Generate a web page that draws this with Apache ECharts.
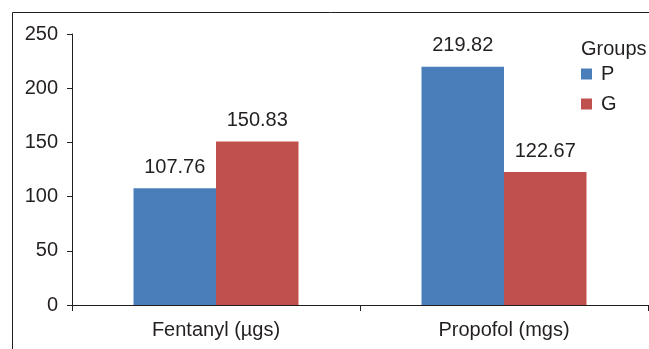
<!DOCTYPE html>
<html>
<head>
<meta charset="utf-8">
<script src="https://cdn.jsdelivr.net/npm/echarts@6/dist/echarts.min.js"></script>
<style>
html, body { margin: 0; padding: 0; background: #fff; }
#chart { width: 649px; height: 349px; }
</style>
</head>
<body>
<div id="chart"></div>
<script>
var categories = ['Fentanyl (µgs)', 'Propofol (mgs)'];
var groupP = [107.76, 219.82];
var groupG = [150.83, 122.67];
var yTicks = { min: 0, max: 250, interval: 50 };

var fontFamily = 'Liberation Sans, Arial, sans-serif';
var textColor = '#231f20';

function barSeries(name, values, color) {
    return {
        name: name,
        type: 'bar',
        data: values,
        barWidth: 82.5,
        barGap: '0%',
        itemStyle: { color: color },
        label: {
            show: true,
            position: 'top',
            distance: 11,
            color: textColor,
            fontSize: 20,
            fontFamily: fontFamily,
            formatter: function (p) { return p.value.toFixed(2); }
        }
    };
}

var option = {
    backgroundColor: '#fff',
    animation: false,
    title: {
        text: 'Groups',
        left: 581,
        top: 39,
        padding: 0,
        textStyle: { fontSize: 20, fontWeight: 'normal', color: textColor, fontFamily: fontFamily }
    },
    legend: {
        orient: 'vertical',
        left: 581,
        top: 64,
        padding: 0,
        itemWidth: 11,
        itemHeight: 11,
        itemGap: 10,
        icon: 'rect',
        textStyle: { fontSize: 20, color: textColor, fontFamily: fontFamily, padding: [0, 0, 0, 4] },
        data: ['P', 'G']
    },
    grid: { left: 72, right: 1, top: 34, bottom: 44, containLabel: false },
    xAxis: {
        type: 'category',
        data: categories,
        axisLine: { lineStyle: { color: '#231f20', width: 1 } },
        axisTick: { show: true, length: 6, alignWithLabel: false, lineStyle: { color: '#231f20' } },
        axisLabel: { color: textColor, fontSize: 20, fontFamily: fontFamily, margin: 15 }
    },
    yAxis: {
        type: 'value',
        min: yTicks.min,
        max: yTicks.max,
        interval: yTicks.interval,
        splitLine: { show: false },
        axisLine: { show: true, lineStyle: { color: '#231f20', width: 1 } },
        axisTick: { show: true, length: 5, lineStyle: { color: '#231f20' } },
        axisLabel: { color: textColor, fontSize: 20, fontFamily: fontFamily, margin: 14 }
    },
    graphic: [{
        type: 'polyline',
        shape: { points: [[12.5, 349], [12.5, 12.5], [649, 12.5]] },
        style: { stroke: '#231f20', lineWidth: 1, fill: null }
    }],
    series: [
        barSeries('P', groupP, '#4a7ebb'),
        barSeries('G', groupG, '#c0504d')
    ]
};

var myChart = echarts.init(document.getElementById('chart'));
myChart.setOption(option);
</script>
</body>
</html>
